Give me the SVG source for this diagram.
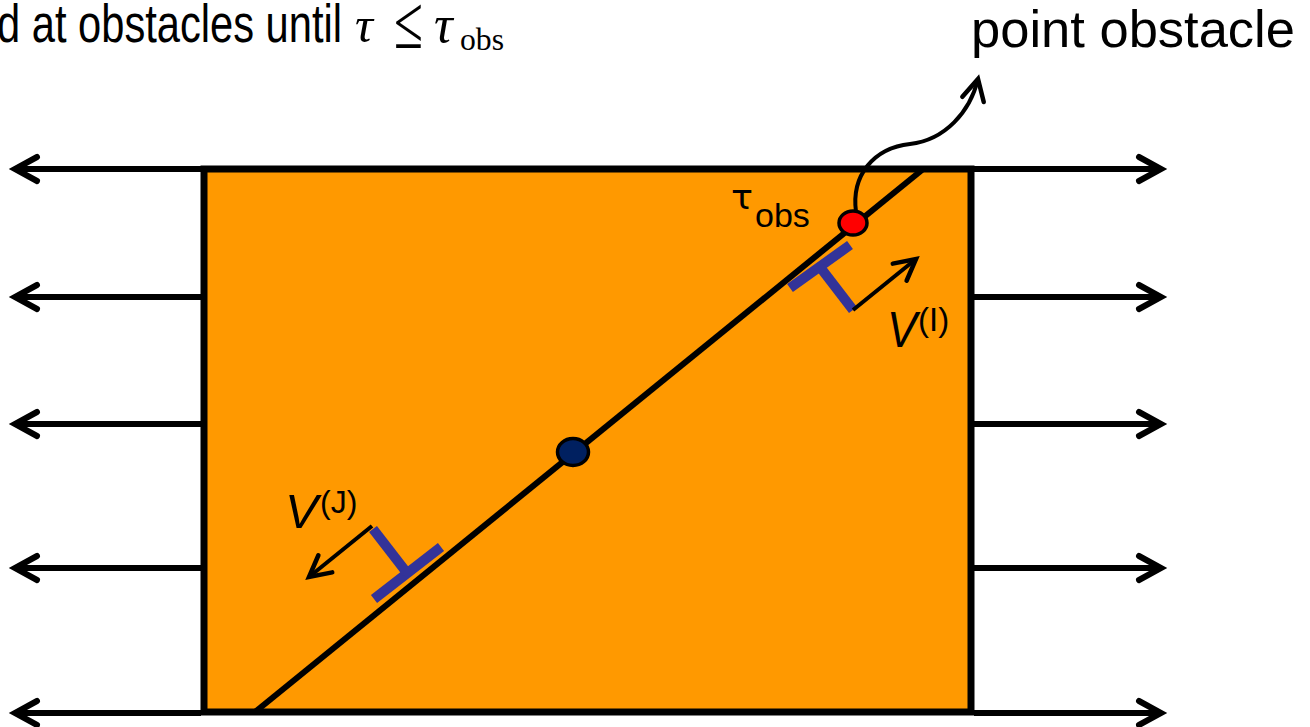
<svg xmlns="http://www.w3.org/2000/svg" width="1310" height="727" viewBox="0 0 1310 727">
<style>
.sans{font-family:"Liberation Sans",Arial,sans-serif;fill:#000}
.serif{font-family:"Liberation Serif","Times New Roman",serif;fill:#000}
.ln{stroke:#000;stroke-width:6;fill:none}
.thin{stroke:#000;stroke-width:4;fill:none}
.blue{stroke:#333399;stroke-width:10;fill:none}
</style>
<defs>
<marker id="chev" markerUnits="userSpaceOnUse" markerWidth="40" markerHeight="40" viewBox="-30 -20 40 40" refX="0" refY="0" orient="auto" overflow="visible">
<path d="M-22,-12 L0,0 L-22,12" fill="none" stroke="#000" stroke-width="6" stroke-linecap="round" stroke-linejoin="miter"/>
</marker>
<marker id="chevs" markerUnits="userSpaceOnUse" markerWidth="40" markerHeight="40" viewBox="-30 -20 40 40" refX="0" refY="0" orient="auto" overflow="visible">
<path d="M-21,-11 L0,0 L-21,11" fill="none" stroke="#000" stroke-width="4.5" stroke-linecap="round" stroke-linejoin="miter"/>
</marker>
</defs>

<g id="title">
<text class="sans" x="-3" y="42" font-size="54" textLength="345" lengthAdjust="spacingAndGlyphs">d at obstacles until</text>
<text class="serif" x="355" y="42" font-size="50" font-style="italic">τ</text>
<text class="serif" x="394" y="48" font-size="76" textLength="29" lengthAdjust="spacingAndGlyphs">≤</text>
<text class="serif" x="434" y="42" font-size="52" font-style="italic">τ</text>
<text class="serif" x="460" y="50" font-size="32" textLength="44" lengthAdjust="spacingAndGlyphs">obs</text>
</g>

<g id="box">
<rect x="204" y="169" width="767" height="543" fill="#FF9900" stroke="#000" stroke-width="7"/>
</g>

<g id="connectors">
<line class="ln" x1="201" y1="169" x2="15" y2="169" marker-end="url(#chev)"/>
<line class="ln" x1="201" y1="297" x2="15" y2="297" marker-end="url(#chev)"/>
<line class="ln" x1="201" y1="424" x2="15" y2="424" marker-end="url(#chev)"/>
<line class="ln" x1="201" y1="568" x2="15" y2="568" marker-end="url(#chev)"/>
<line class="ln" x1="201" y1="713" x2="15" y2="713" marker-end="url(#chev)"/>
<line class="ln" x1="974" y1="169" x2="1161" y2="169" marker-end="url(#chev)"/>
<line class="ln" x1="974" y1="297" x2="1161" y2="297" marker-end="url(#chev)"/>
<line class="ln" x1="974" y1="424" x2="1161" y2="424" marker-end="url(#chev)"/>
<line class="ln" x1="974" y1="568" x2="1161" y2="568" marker-end="url(#chev)"/>
<line class="ln" x1="974" y1="713" x2="1161" y2="713" marker-end="url(#chev)"/>
<path class="thin" d="M856,212 C851,175 874,148 910,144 C945,140 970,112 978,79" marker-end="url(#chevs)"/>
</g>

<g id="diagonal">
<line class="ln" x1="255" y1="712" x2="922" y2="170"/>
</g>

<g id="panel-I">
<line class="blue" x1="790" y1="288" x2="850" y2="245"/>
<line class="blue" x1="820" y1="267" x2="853" y2="310"/>
<line class="thin" x1="853" y1="310" x2="916" y2="259" marker-end="url(#chevs)"/>
<text class="sans" x="887" y="347" font-size="50" font-style="italic" textLength="30" lengthAdjust="spacingAndGlyphs">V</text>
<text class="sans" x="918" y="331" font-size="33">(I)</text>
</g>

<g id="panel-J">
<line class="blue" x1="374" y1="599" x2="441" y2="547"/>
<line class="blue" x1="407" y1="573" x2="373" y2="529"/>
<line class="thin" x1="372" y1="526" x2="309" y2="577" marker-end="url(#chevs)"/>
<text class="sans" x="285" y="528" font-size="48" font-style="italic" textLength="33" lengthAdjust="spacingAndGlyphs">V</text>
<text class="sans" x="320" y="513" font-size="32">(J)</text>
</g>

<g id="obstacle">
<ellipse cx="853" cy="223" rx="14" ry="12" fill="#FF0000" stroke="#000" stroke-width="3.5"/>
<text x="731" y="209" font-size="33" font-family="'DejaVu Sans',sans-serif" textLength="22" lengthAdjust="spacingAndGlyphs">τ</text>
<text class="sans" x="755" y="227" font-size="34">obs</text>
</g>

<g id="center-point">
<ellipse cx="573" cy="452" rx="15.5" ry="13.5" fill="#002060" stroke="#000" stroke-width="3.5"/>
</g>

<g id="label">
<text class="sans" x="971" y="47" font-size="52.5">point obstacle</text>
</g>
</svg>
